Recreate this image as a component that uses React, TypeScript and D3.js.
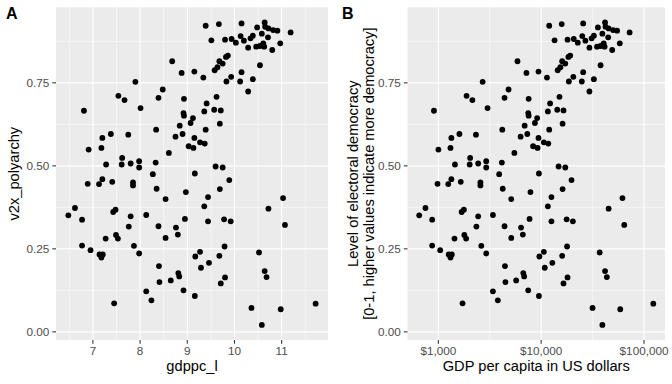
import React from "react";
import * as d3 from "d3";

// log GDP per capita (natural log), one value per country
const gdppcLog = [
  6.81, 6.91, 6.89, 6.62, 6.48, 6.77, 6.77, 6.95, 8.68, 7.9,
  8.48, 7.54, 7.67, 8.39, 8.01, 8.34, 7.38, 7.75, 7.2, 8.75,
  7.18, 8.61, 7.62, 7.28, 7.61, 7.8, 7.98, 7.98, 8.33, 8.27,
  7.2, 7.41, 7.13, 7.85, 7.85, 8.35, 8.54, 7.43, 7.48, 7.8,
  8.13, 7.76, 8.39, 8.76, 7.27, 7.49, 7.53, 8.54, 7.87, 7.98,
  7.14, 7.21, 7.18, 8.4, 8.41, 8.65, 8.13, 8.24, 7.45, 9.39,
  9.67, 10.15, 10.48, 9.51, 9.8, 9.94, 10.03, 10.13, 10.2, 10.34,
  10.39, 10.29, 10.46, 9.86, 8.88, 9.15, 9.34, 9.58, 9.64, 9.68,
  9.75, 9.82, 9.83, 9.93, 10.12, 10.15, 10.39, 10.29, 10.54, 8.93,
  9.41, 9.62, 8.92, 8.93, 9.36, 9.57, 9.71, 9.12, 9.07, 8.84,
  9.69, 8.9, 9.39, 9.15, 9.03, 9.13, 9.27, 9.37, 9.6, 9.75,
  9.16, 9.89, 8.97, 9.69, 9.44, 9.36, 8.95, 9.44, 9.78, 9.92,
  8.8, 9.79, 9.27, 9.17, 9.68, 10.52, 9.46, 9.29, 8.81, 8.83,
  9.8, 9.71, 8.92, 9.16, 10.36, 10.58, 10.64, 10.65, 10.72, 10.82,
  10.91, 11.19, 10.58, 10.71, 10.54, 10.61, 10.63, 10.8, 10.97, 11.03,
  10.72, 11.07, 10.64, 10.68, 11.72, 10.98,
];

// electoral democracy index (v2x_polyarchy), same order
const polyarchy = [
  0.666, 0.549, 0.446, 0.373, 0.351, 0.338, 0.26, 0.246, 0.815, 0.753,
  0.73, 0.711, 0.698, 0.705, 0.674, 0.609, 0.596, 0.594, 0.584, 0.588,
  0.554, 0.539, 0.524, 0.504, 0.504, 0.507, 0.514, 0.495, 0.51, 0.475,
  0.46, 0.452, 0.445, 0.45, 0.441, 0.431, 0.4, 0.361, 0.368, 0.348,
  0.352, 0.317, 0.318, 0.314, 0.281, 0.292, 0.281, 0.283, 0.259, 0.236,
  0.233, 0.233, 0.224, 0.198, 0.15, 0.155, 0.122, 0.095, 0.086, 0.922,
  0.927, 0.929, 0.917, 0.878, 0.88, 0.882, 0.871, 0.891, 0.877, 0.884,
  0.892, 0.856, 0.859, 0.832, 0.78, 0.784, 0.766, 0.788, 0.797, 0.815,
  0.808, 0.828, 0.754, 0.768, 0.754, 0.782, 0.761, 0.724, 0.803, 0.702,
  0.688, 0.708, 0.659, 0.651, 0.664, 0.669, 0.667, 0.644, 0.629, 0.621,
  0.627, 0.596, 0.609, 0.584, 0.559, 0.554, 0.571, 0.567, 0.498, 0.495,
  0.477, 0.457, 0.421, 0.43, 0.406, 0.378, 0.34, 0.333, 0.339, 0.333,
  0.293, 0.257, 0.241, 0.227, 0.229, 0.239, 0.208, 0.193, 0.177, 0.167,
  0.164, 0.146, 0.125, 0.108, 0.072, 0.021, 0.932, 0.919, 0.914, 0.909,
  0.907, 0.902, 0.898, 0.887, 0.861, 0.869, 0.859, 0.849, 0.869, 0.403,
  0.371, 0.322, 0.183, 0.165, 0.085, 0.068,
];

const yTicks = [0, 0.25, 0.5, 0.75];
const yMinor = [0.125, 0.375, 0.625, 0.875];
const xTicksA = [7, 8, 9, 10, 11];
const xMinorA = [6.5, 7.5, 8.5, 9.5, 10.5, 11.5];
const xTicksB = [1000, 10000, 100000];
const xMinorB = [Math.pow(10, 3.5), Math.pow(10, 4.5)];

const W = 672;
const H = 384;
const top = 7.3;
const bottom = 340;
const font = "'Liberation Sans', Arial, Helvetica, sans-serif";

// ggplot style 5% expansion
const expand = ([a, b]: number[]) => {
  const r = b - a;
  return [a - r * 0.05, b + r * 0.05];
};

const yDom = expand(d3.extent(polyarchy) as number[]);
const lnDom = expand(d3.extent(gdppcLog) as number[]);
const log10Dom = expand((d3.extent(gdppcLog) as number[]).map((v) => v / Math.LN10));

const fmtDollar = (v: number) => "$" + d3.format(",")(v);

type PanelProps = {
  left: number;
  right: number;
  x: (v: number) => number;
  xVals: number[];
  xTicks: number[];
  xMinor: number[];
  xFmt: (v: number) => string;
  xTitle: string;
  yTitle: string[];
  tag: string;
  tagX: number;
  yTitleX: number;
};

const Panel = (p: PanelProps) => {
  const y = d3.scaleLinear().domain(yDom).range([bottom, top]);
  const cx = (p.left + p.right) / 2;
  const cy = (top + bottom) / 2;
  return (
    <g>
      <rect x={p.left} y={top} width={p.right - p.left} height={bottom - top} fill="#EBEBEB" />
      {yMinor.map((t) => (
        <line key={"ym" + t} x1={p.left} x2={p.right} y1={y(t)} y2={y(t)} stroke="#fff" strokeWidth={0.53} />
      ))}
      {p.xMinor.map((t) => (
        <line key={"xm" + t} x1={p.x(t)} x2={p.x(t)} y1={top} y2={bottom} stroke="#fff" strokeWidth={0.53} />
      ))}
      {yTicks.map((t) => (
        <line key={"y" + t} x1={p.left} x2={p.right} y1={y(t)} y2={y(t)} stroke="#fff" strokeWidth={1.07} />
      ))}
      {p.xTicks.map((t) => (
        <line key={"x" + t} x1={p.x(t)} x2={p.x(t)} y1={top} y2={bottom} stroke="#fff" strokeWidth={1.07} />
      ))}
      {p.xVals.map((v, i) => (
        <circle key={i} cx={p.x(v)} cy={y(polyarchy[i])} r={2.9} fill="#000" />
      ))}
      {yTicks.map((t) => (
        <g key={"yl" + t}>
          <line x1={p.left - 3.67} x2={p.left} y1={y(t)} y2={y(t)} stroke="#333" strokeWidth={1.07} />
          <text x={p.left - 6.6} y={y(t)} dy="0.35em" textAnchor="end" fontSize={11.73} fill="#4D4D4D" fontFamily={font}>
            {d3.format(".2f")(t)}
          </text>
        </g>
      ))}
      {p.xTicks.map((t) => (
        <g key={"xl" + t}>
          <line x1={p.x(t)} x2={p.x(t)} y1={bottom} y2={bottom + 3.67} stroke="#333" strokeWidth={1.07} />
          <text x={p.x(t)} y={bottom + 15.3} textAnchor="middle" fontSize={11.73} fill="#4D4D4D" fontFamily={font}>
            {p.xFmt(t)}
          </text>
        </g>
      ))}
      <text x={cx} y={371} textAnchor="middle" fontSize={14.67} fill="#000" fontFamily={font}>
        {p.xTitle}
      </text>
      <text
        transform={`translate(${p.yTitleX},${cy}) rotate(-90)`}
        textAnchor="middle"
        fontSize={14.67}
        fill="#000"
        fontFamily={font}
      >
        {p.yTitle.map((line, i) => (
          <tspan key={i} x={0} y={(i - (p.yTitle.length - 1)) * 16.5}>
            {line}
          </tspan>
        ))}
      </text>
      <text x={p.tagX} y={19} fontSize={16} fontWeight="bold" fill="#000" fontFamily={font}>
        {p.tag}
      </text>
    </g>
  );
};

export default function App() {
  const xA = d3.scaleLinear().domain(lnDom).range([56, 328]);
  const xB = d3
    .scaleLog()
    .domain(log10Dom.map((v) => Math.pow(10, v)))
    .range([407.5, 665]);

  return (
    <svg width={W} height={H} style={{ position: "absolute", left: 0, top: 0, background: "#fff" }}>
      <rect width={W} height={H} fill="#fff" />
      <Panel
        left={56}
        right={328}
        x={xA}
        xVals={gdppcLog}
        xTicks={xTicksA}
        xMinor={xMinorA.filter((t) => t > lnDom[0] && t < lnDom[1])}
        xFmt={(v) => String(v)}
        xTitle="gdppc_l"
        yTitle={["v2x_polyarchy"]}
        tag="A"
        tagX={6}
        yTitleX={19}
      />
      <Panel
        left={407.5}
        right={665}
        x={xB}
        xVals={gdppcLog.map((v) => Math.exp(v))}
        xTicks={xTicksB}
        xMinor={xMinorB}
        xFmt={fmtDollar}
        xTitle="GDP per capita in US dollars"
        yTitle={["Level of electoral democracy", "[0-1, higher values indicate more democracy]"]}
        tag="B"
        tagX={342}
        yTitleX={374}
      />
    </svg>
  );
}
